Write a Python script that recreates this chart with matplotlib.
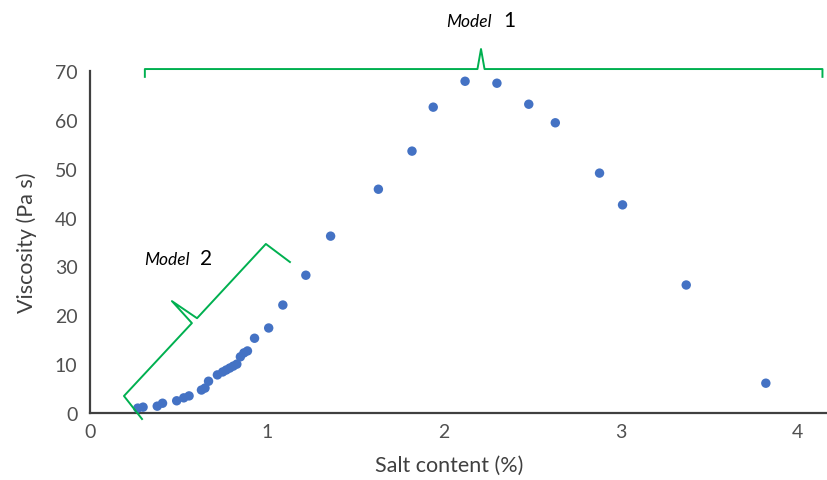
import matplotlib
matplotlib.use('Agg')
import matplotlib.pyplot as plt
import numpy as np

# salt content (%) and viscosity (Pa s)
salt = [0.27, 0.30, 0.38, 0.41, 0.49, 0.53, 0.56, 0.63, 0.65, 0.67,
        0.72, 0.75, 0.77, 0.79, 0.81, 0.83, 0.85, 0.87, 0.89, 0.93,
        1.01, 1.09, 1.22, 1.36, 1.63, 1.82, 1.94, 2.12, 2.30, 2.48,
        2.63, 2.88, 3.01, 3.37, 3.82]
visc = [1.0, 1.2, 1.4, 2.0, 2.5, 3.1, 3.5, 4.7, 5.1, 6.5,
        7.8, 8.4, 8.8, 9.2, 9.6, 10.0, 11.5, 12.3, 12.7, 15.3,
        17.4, 22.1, 28.2, 36.2, 45.8, 53.6, 62.6, 67.9, 67.5, 63.2,
        59.4, 49.1, 42.6, 26.2, 6.1]

xticks = [0, 1, 2, 3, 4]
yticks = [0, 10, 20, 30, 40, 50, 60, 70]

# bracket outlines (data coords)
m1_x = [0.31, 0.31, 2.19, 2.21, 2.23, 4.14, 4.14]
m1_y = [68.8, 70.4, 70.4, 74.5, 70.4, 70.4, 68.8]
m2_x = [0.294, 0.192, 0.576, 0.463, 0.605, 0.994, 1.13]
m2_y = [-1.23, 3.48, 18.4, 22.9, 19.4, 34.6, 30.9]

plt.rcParams['font.family'] = ['Lato', 'DejaVu Sans']
W, H = 827, 481
fig = plt.figure(figsize=(W / 100, H / 100), dpi=100)
ax = fig.add_axes([90 / W, 1 - 414 / H, 736 / W, 342 / H])

ax.scatter(salt, visc, s=46, color='#4472C4', edgecolors='none', zorder=3)

ax.set_xlim(0, 4.16)
ax.set_ylim(0, 70)
ax.set_xticks(xticks)
ax.set_yticks(yticks)
ax.tick_params(length=0, labelsize=14, labelcolor='#505050')
ax.tick_params(axis='y', pad=9)
ax.tick_params(axis='x', pad=7)
for s in ['top', 'right']:
    ax.spines[s].set_visible(False)
for s in ['left', 'bottom']:
    ax.spines[s].set_color('#404040')
    ax.spines[s].set_linewidth(1.6)

green = '#00B050'
ax.plot(m1_x, m1_y, color=green, lw=1.4, clip_on=False, zorder=4)
ax.plot(m2_x, m2_y, color=green, lw=1.4, clip_on=False, zorder=4)

fig.text(449 / W, 1 - 466 / H, 'Salt content (%)', ha='center', va='center',
         fontsize=15.5, color='#404040')
fig.text(27 / W, 1 - 243 / H, 'Viscosity (Pa s)', ha='center', va='center',
         rotation=90, fontsize=15.5, color='#404040')

# model labels: italic word, upright larger number
fig.text(446 / W, 1 - 27 / H, 'Model', style='italic', fontsize=12.5,
         ha='left', va='baseline', color='black')
fig.text(503 / W, 1 - 27 / H, '1', fontsize=15, ha='left', va='baseline',
         color='black')
fig.text(144 / W, 1 - 265 / H, 'Model', style='italic', fontsize=12.5,
         ha='left', va='baseline', color='black')
fig.text(200 / W, 1 - 265 / H, '2', fontsize=15, ha='left', va='baseline',
         color='black')

fig.savefig('out.png', dpi=100)
